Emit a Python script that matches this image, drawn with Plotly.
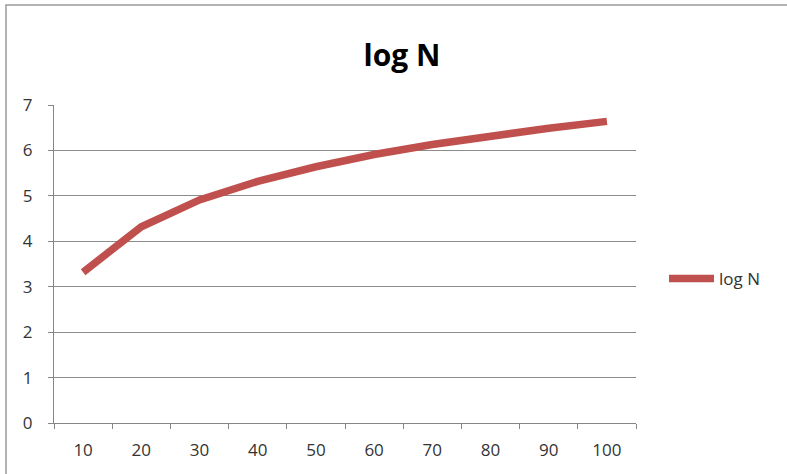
import plotly.graph_objects as go

categories = ["10", "20", "30", "40", "50", "60", "70", "80", "90", "100"]
log_n = [3.32, 4.32, 4.91, 5.32, 5.64, 5.91, 6.13, 6.32, 6.49, 6.64]
y_ticks = [0, 1, 2, 3, 4, 5, 6, 7]

FONT = "Open Sans, Liberation Sans, sans-serif"
L, R, T, B = 54, 151, 105, 51
W, H = 787, 474
pw, ph = W - L - R, H - T - B

fig = go.Figure()
fig.add_trace(go.Scatter(
    x=categories, y=log_n, mode="lines", name="log N",
    line=dict(color="#C0504D", width=7.5),
))

fig.update_layout(
    width=W, height=H,
    margin=dict(l=L, r=R, t=T, b=B),
    paper_bgcolor="white", plot_bgcolor="white",
    font=dict(family=FONT, size=17, color="#333333"),
    title=dict(text="<b>log N</b>", x=(402) / W, xanchor="center",
               y=1 - 55 / H, yanchor="middle",
               font=dict(family=FONT, size=30, color="black")),
    showlegend=True,
    legend=dict(x=(664 - L) / pw, y=(423 - 279) / ph, xanchor="left", yanchor="middle",
                font=dict(family=FONT, size=17, color="#333333"),
                bgcolor="rgba(0,0,0,0)", itemwidth=45),
    xaxis=dict(type="category", tickson="boundaries", ticks="outside", ticklen=5,
               tickcolor="#868686", showline=True, linecolor="#868686", linewidth=1,
               showgrid=False, range=[-0.5, 9.5], fixedrange=True,
               tickfont=dict(size=17), ticklabelstandoff=12),
    yaxis=dict(range=[0, 7], tickvals=y_ticks, ticks="outside", ticklen=5,
               tickcolor="#868686", showline=True, linecolor="#868686", linewidth=1,
               showgrid=True, gridcolor="#8c8c8c", gridwidth=1, zeroline=False,
               ticklabelstandoff=12, tickfont=dict(size=17)),
    shapes=[dict(type="rect", xref="paper", yref="paper",
                 x0=(6 - L) / pw, x1=(W + 20 - L) / pw,
                 y0=(H - B - (H + 20)) / ph, y1=(H - B - 5) / ph,
                 line=dict(color="#9a9a9a", width=1.5), fillcolor="rgba(0,0,0,0)",
                 layer="below")],
)

fig.write_html("out.html")
